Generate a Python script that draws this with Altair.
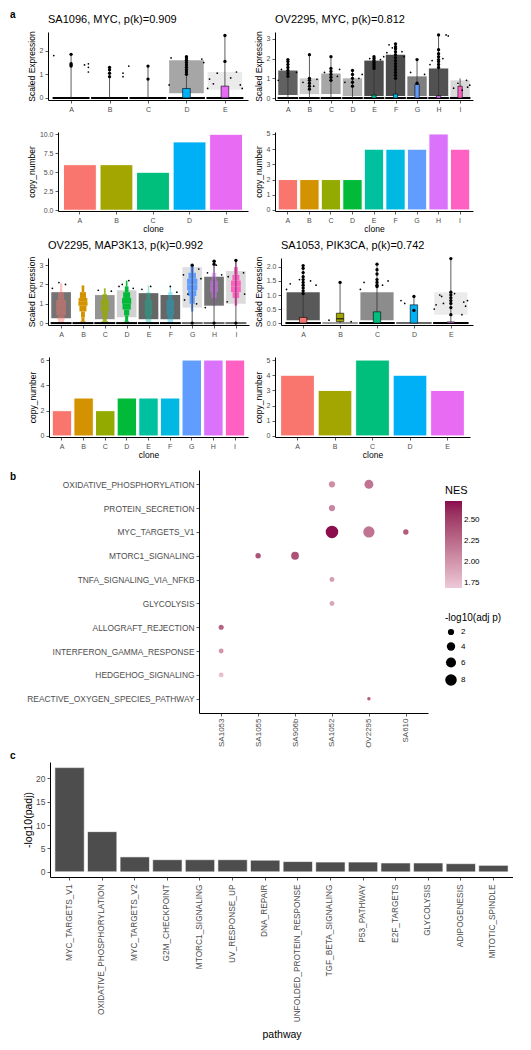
import altair as alt
import pandas as pd

FONT = "Liberation Sans"
GREY = "#4D4D4D"

clones5 = ["A", "B", "C", "D", "E"]
clones9 = ["A", "B", "C", "D", "E", "F", "G", "H", "I"]
hue5 = ["#F8766D", "#A3A500", "#00BF7D", "#00B0F6", "#E76BF3"]
hue9 = ["#F8766D", "#D39200", "#93AA00", "#00BA38", "#00C19F", "#00B9E3", "#619CFF", "#DB72FB", "#FF61C3"]

# ---------------- panel a : SA1096 MYC ----------------
p1_title = "SA1096, MYC, p(k)=0.909"
p1_cloud_lo = [0, 0, 0, 0.2, 0.35]
p1_cloud_hi = [0, 0, 0, 1.6, 1.1]
p1_cloud_density = [0, 0, 0, 0.35, 0.08]
p1_box_q1 = [0, 0, 0, 0, 0]
p1_box_q3 = [0, 0, 0, 0.4, 0.5]
p1_box_median = [0, 0, 0, 0, 0]
p1_whisker_hi = [1.85, 1.3, 1.35, 1.75, 2.65]
p1_zero_line = [1, 1, 1, 1, 1]
p1_outlier_clone = ["A"] * 4 + ["B"] * 4 + ["C"] * 2 + ["D"] * 9 + ["E"] * 2
p1_outlier_value = [1.85, 1.45, 1.4, 1.35, 1.3, 1.2, 1.05, 0.9, 1.35, 0.8,
                    1.75, 1.7, 1.6, 1.5, 1.4, 1.3, 1.2, 1.1, 1.0, 2.65, 1.55]
p1_jitter_clone = ["A"] * 5 + ["B"] * 3 + ["D"] * 4 + ["E"] * 8
p1_jitter_offset = [-0.45, 0.35, 0.45, 0.45, 0.45, 0.35, 0.35, 0.5, -0.45, 0.45, 0.4, -0.4,
                    -0.45, -0.4, -0.3, 0.3, 0.4, 0.45, -0.2, 0.15]
p1_jitter_value = [1.8, 1.4, 1.45, 1.3, 1.1, 1.05, 0.9, 1.35, 0.55, 1.5, 1.65, 1.7,
                   0.4, 0.8, 0.6, 1.1, 0.55, 0.4, 1.05, 0.85]

# ---------------- panel a : OV2295 MYC ----------------
p2_title = "OV2295, MYC, p(k)=0.812"
p2_cloud_lo = [0.15, 0.2, 0.2, 0.1, 0.1, 0.1, 0.1, 0.1, 0.05]
p2_cloud_hi = [1.4, 1.0, 1.25, 1.0, 1.9, 2.2, 1.1, 1.5, 0.9]
p2_cloud_density = [0.62, 0.2, 0.35, 0.3, 0.7, 0.7, 0.5, 0.68, 0.15]
p2_box_q1 = [0, 0, 0, 0, 0, 0, 0, 0, 0]
p2_box_q3 = [0, 0, 0, 0, 0.15, 0.2, 0.7, 0.12, 0.6]
p2_box_median = [0, 0, 0, 0, 0, 0, 0, 0, 0]
p2_whisker_hi = [1.95, 2.2, 2.1, 1.4, 2.1, 2.75, 1.95, 3.2, 1.0]
p2_zero_line = [1, 1, 1, 1, 1, 1, 1, 1, 1]
p2_outlier_clone = (["A"] * 7 + ["B"] * 6 + ["C"] * 6 + ["D"] * 5 + ["E"] * 7 +
                    ["F"] * 13 + ["G"] * 2 + ["H"] * 8)
p2_outlier_value = [1.95, 1.85, 1.7, 1.55, 1.4, 1.25, 1.1,
                    2.2, 1.0, 0.9, 0.75, 0.6, 0.45,
                    2.1, 1.5, 1.35, 1.2, 1.05, 0.9,
                    1.4, 1.2, 1.0, 0.8, 0.6,
                    2.1, 2.0, 1.9, 1.8, 1.7, 1.6, 1.5,
                    2.75, 2.6, 2.5, 2.35, 2.2, 2.05, 1.9, 1.75, 1.6, 1.45, 1.3, 1.15, 1.0,
                    1.95, 0.75,
                    3.2, 2.45, 2.25, 2.1, 1.95, 1.85, 1.7, 1.55]
p2_jitter_clone = (["A"] * 3 + ["B"] * 3 + ["C"] * 3 + ["D"] * 3 + ["E"] * 3 +
                   ["F"] * 5 + ["G"] * 2 + ["H"] * 5 + ["I"] * 6)
p2_jitter_offset = [-0.3, 0.4, -0.45, -0.3, 0.2, 0.35, -0.3, 0.3, 0.4, 0.3, -0.35, 0.45,
                    -0.2, 0.3, 0.45, -0.3, -0.15, 0.3, 0.4, -0.4, -0.3, 0.35,
                    0.35, 0.45, -0.3, 0.2, -0.4, 0.3, 0.35, -0.3, 0.45, -0.1, 0.1]
p2_jitter_value = [1.45, 1.3, 0.9, 0.8, 0.6, 0.95, 1.3, 1.1, 1.45, 1.0, 0.8, 1.2,
                   2.0, 1.95, 2.1, 2.7, 2.55, 2.35, 2.1, 2.3, 1.3, 1.2,
                   3.2, 3.15, 1.9, 2.0, 1.7, 0.9, 0.55, 0.5, 0.65, 0.75, 0.4]

# ---------------- panel a : OV2295 MAP3K13 (violins) ----------------
p3_title = "OV2295, MAP3K13, p(k)=0.992"
p3_violin_clone = (["A"] * 7 + ["B"] * 9 + ["C"] * 8 + ["D"] * 9 + ["E"] * 7 +
                   ["F"] * 7 + ["G"] * 8 + ["H"] * 7 + ["I"] * 8)
p3_violin_y = [0, 0.15, 0.4, 0.8, 1.2, 1.6, 2.05,
               0, 0.1, 0.3, 0.6, 0.9, 1.1, 1.3, 1.6, 1.95,
               0, 0.1, 0.3, 0.6, 0.9, 1.2, 1.5, 1.8,
               0, 0.1, 0.4, 0.7, 1.0, 1.3, 1.6, 1.9, 2.2,
               0, 0.1, 0.4, 0.8, 1.2, 1.6, 1.95,
               0, 0.1, 0.4, 0.8, 1.2, 1.6, 1.9,
               0.6, 1.0, 1.4, 1.7, 2.0, 2.3, 2.6, 3.0,
               0.9, 1.3, 1.6, 1.9, 2.2, 2.6, 3.2,
               0.9, 1.3, 1.6, 1.9, 2.2, 2.5, 2.9, 3.25]
p3_violin_halfwidth = [0.15, 0.12, 0.2, 0.25, 0.2, 0.08, 0.02,
                       0.14, 0.08, 0.06, 0.12, 0.2, 0.22, 0.18, 0.1, 0.02,
                       0.2, 0.1, 0.08, 0.16, 0.2, 0.15, 0.06, 0.02,
                       0.14, 0.06, 0.08, 0.16, 0.22, 0.2, 0.12, 0.05, 0.02,
                       0.16, 0.1, 0.15, 0.2, 0.14, 0.05, 0.02,
                       0.16, 0.1, 0.15, 0.2, 0.14, 0.05, 0.02,
                       0.02, 0.08, 0.16, 0.22, 0.25, 0.22, 0.12, 0.02,
                       0.02, 0.08, 0.16, 0.2, 0.15, 0.06, 0.01,
                       0.02, 0.1, 0.2, 0.25, 0.2, 0.12, 0.05, 0.01]
# how much of each violin shows through the dense jitter cloud
p3_violin_visibility = [0.45, 1, 0.85, 1, 0.4, 0.4, 1, 0.55, 1]
p3_cloud_lo = [0.25, 0, 0.2, 0.3, 0.2, 0.2, 0.8, 0.9, 1.0]
p3_cloud_hi = [1.6, 0, 1.45, 1.7, 1.55, 1.45, 2.9, 2.4, 2.7]
p3_cloud_density = [0.55, 0, 0.42, 0.18, 0.6, 0.6, 0.12, 0.55, 0.14]
p3_box_q1 = [0, 0, 0, 0, 0, 0, 0, 0, 0]
p3_box_q3 = [0, 0, 0, 0, 0, 0, 0, 0, 0]
p3_box_median = [0, 0, 0, 0, 0, 0, 0, 0, 0]
p3_whisker_hi = [0, 0, 0, 0, 0, 0, 3.0, 3.2, 3.25]
p3_zero_line = [1, 1, 1, 1, 1, 1, 0.6, 0.6, 0.6]
p3_outlier_clone = ["G", "G", "H", "H", "H", "I", "I"]
p3_outlier_value = [0, 3.0, 0, 3.2, 3.05, 0, 3.25]
p3_jitter_clone = (["A"] * 3 + ["C"] * 2 + ["D"] * 4 + ["E"] * 2 + ["F"] * 2 +
                   ["G"] * 6 + ["H"] * 5 + ["I"] * 5)
p3_jitter_offset = [-0.1, 0.2, -0.4, 0.3, -0.3, -0.2, 0.1, 0.3, -0.35, 0.1, -0.3, 0, 0.3,
                    -0.4, 0.4, -0.35, 0.3, -0.2, 0.2, 0.05, 0.1, -0.3, 0.35, -0.4,
                    0, 0.35, -0.35, 0.4, -0.4]
p3_jitter_value = [2.1, 2.0, 1.8, 1.65, 1.7, 2.0, 2.2, 1.8, 1.9, 1.9, 1.75, 1.9, 1.6,
                   2.5, 2.3, 1.2, 2.8, 1.5, 1.0, 3.2, 3.0, 2.6, 2.5, 0.8,
                   3.2, 2.6, 2.4, 1.5, 1.1]

# ---------------- panel a : SA1053 PIK3CA ----------------
p4_title = "SA1053, PIK3CA, p(k)=0.742"
p4_cloud_lo = [0.1, 0, 0.1, 0, 0.3]
p4_cloud_hi = [1.1, 0, 1.1, 0, 1.1]
p4_cloud_density = [0.65, 0, 0.45, 0, 0.08]
p4_box_q1 = [0, 0.05, 0, 0, 0]
p4_box_q3 = [0.2, 0.35, 0.4, 0.65, 0.04]
p4_box_median = [0, 0.15, 0, 0, 0]
p4_whisker_hi = [2.05, 1.45, 2.1, 0.95, 2.3]
p4_zero_line = [1, 0.4, 1, 0.6, 1]
p4_outlier_clone = ["A"] * 10 + ["B"] + ["C"] * 7 + ["D"] * 2 + ["E"] * 8
p4_outlier_value = [2.05, 1.95, 1.8, 1.65, 1.55, 1.45, 1.35, 1.25, 1.15, 1.05,
                    1.45,
                    2.1, 1.9, 1.75, 1.55, 1.45, 1.35, 1.3,
                    0.95, 0.45,
                    2.3, 1.1, 1.0, 0.9, 0.8, 0.7, 0.55, 0.3]
p4_jitter_clone = ["A"] * 5 + ["B"] * 2 + ["C"] * 4 + ["D"] * 2 + ["E"] * 10
p4_jitter_offset = [-0.35, 0.35, 0.2, -0.1, -0.45, 0.3, -0.3, -0.35, 0.3, 0.15, -0.45,
                    -0.35, -0.25, -0.4, -0.3, -0.2, 0.35, 0.4, 0.3, -0.25, 0.1, -0.45, 0.45]
p4_jitter_value = [1.4, 1.35, 1.5, 1.55, 1.2, 0.05, 0.1, 1.45, 1.5, 1.35, 1.2,
                   0.8, 0.7, 0.65, 1.0, 0.7, 0.75, 0.6, 0.3, 0.95, 1.05, 0.5, 0.8]

# ---------------- panel a : copy numbers ----------------
cn_sa1096_myc = [6, 6, 5, 9, 10]
cn_ov2295_myc = [2, 2, 2, 2, 4, 4, 4, 5, 4]
cn_ov2295_map3k13 = [2, 3, 2, 3, 3, 3, 6, 6, 6]
cn_sa1053_pik3ca = [4, 3, 5, 4, 3]

# ---------------- panel b ----------------
b_pathways = ["OXIDATIVE_PHOSPHORYLATION", "PROTEIN_SECRETION", "MYC_TARGETS_V1",
              "MTORC1_SIGNALING", "TNFA_SIGNALING_VIA_NFKB", "GLYCOLYSIS",
              "ALLOGRAFT_REJECTION", "INTERFERON_GAMMA_RESPONSE", "HEDGEHOG_SIGNALING",
              "REACTIVE_OXYGEN_SPECIES_PATHWAY"]
b_samples = ["SA1053", "SA1055", "SA906b", "SA1052", "OV2295", "SA610"]
b_pathway = ["OXIDATIVE_PHOSPHORYLATION", "OXIDATIVE_PHOSPHORYLATION", "PROTEIN_SECRETION",
             "MYC_TARGETS_V1", "MYC_TARGETS_V1", "MYC_TARGETS_V1",
             "MTORC1_SIGNALING", "MTORC1_SIGNALING", "TNFA_SIGNALING_VIA_NFKB", "GLYCOLYSIS",
             "ALLOGRAFT_REJECTION", "INTERFERON_GAMMA_RESPONSE", "HEDGEHOG_SIGNALING",
             "REACTIVE_OXYGEN_SPECIES_PATHWAY"]
b_sample = ["SA1052", "OV2295", "SA1052", "SA1052", "OV2295", "SA610",
            "SA1055", "SA906b", "SA1052", "SA1052", "SA1053", "SA1053", "SA1053", "OV2295"]
b_nes = [2.05, 2.2, 2.1, 2.72, 2.2, 2.35, 2.4, 2.4, 1.95, 1.9, 2.3, 2.0, 1.75, 2.35]
b_log10_adjp = [2.0, 4.6, 2.0, 9.5, 7.6, 1.4, 1.4, 3.4, 1.1, 1.1, 1.2, 1.1, 1.1, 0.3]

# ---------------- panel c ----------------
c_pathway = ["MYC_TARGETS_V1", "OXIDATIVE_PHOSPHORYLATION", "MYC_TARGETS_V2", "G2M_CHECKPOINT",
             "MTORC1_SIGNALING", "UV_RESPONSE_UP", "DNA_REPAIR", "UNFOLDED_PROTEIN_RESPONSE",
             "TGF_BETA_SIGNALING", "P53_PATHWAY", "E2F_TARGETS", "GLYCOLYSIS",
             "ADIPOGENESIS", "MITOTIC_SPINDLE"]
c_log10_padj = [22.3, 8.6, 3.2, 2.6, 2.6, 2.6, 2.5, 2.2, 2.1, 2.1, 1.9, 1.9, 1.75, 1.4]

INDEP = dict(color="independent", opacity="independent", size="independent")


# ================= helpers =================
def frame(w, h, L, T, R, B):
    return alt.Chart(pd.DataFrame({"f": [0]})).mark_rect(opacity=0).encode(
        x=alt.value(-L), x2=alt.value(w + R), y=alt.value(-T), y2=alt.value(h + B))


def label(text, x, y, size=10, bold=True):
    return alt.Chart(pd.DataFrame({"t": [text]})).mark_text(
        align="left", baseline="middle", fontSize=size, font=FONT, color="black",
        fontWeight="bold" if bold else "normal").encode(
        x=alt.value(x), y=alt.value(y), text="t:N")


def spacer(h, T, B, tag=None, tag_y=0):
    layers = [frame(10, h, 0, T, 0, B)]
    if tag:
        layers.append(label(tag, 2, tag_y))
    return alt.layer(*layers).properties(width=10, height=h)


def expr_panel(title, clones, colors, ydom, yvals, yfmt, w, h, L, T, R, B,
               cloud_lo, cloud_hi, cloud_den, q1, q3, med, whi, zero,
               out_clone, out_value, jit_clone, jit_off, jit_value,
               vio_clone=None, vio_y=None, vio_hw=None, vio_vis=None):
    n = len(clones)
    pos = {c: i + 1 for i, c in enumerate(clones)}
    xscale = alt.Scale(domain=[0.4, n + 0.6], nice=False, zero=False)
    yscale = alt.Scale(domain=ydom, nice=False, zero=False)
    lbl = "[" + ",".join("'%s'" % c for c in clones) + "][datum.value - 1]"
    xaxis = alt.Axis(values=list(range(1, n + 1)), labelExpr=lbl, title=None,
                     labelFontSize=7, labelPadding=2, labelFlush=False)
    yaxis = alt.Axis(values=yvals, format=yfmt, title="Scaled Expression",
                     titleFontSize=8.5, titlePadding=3, labelFontSize=7, labelPadding=2)

    def X(f):
        return alt.X(f, type="quantitative", scale=xscale, axis=xaxis)

    def Y(f):
        return alt.Y(f, type="quantitative", scale=yscale, axis=yaxis)

    cscale = alt.Scale(domain=clones, range=colors)
    layers = [frame(w, h, L, T, R, B)]

    cdf = pd.DataFrame({"clone": clones, "lo": cloud_lo, "hi": cloud_hi, "den": cloud_den})
    cdf = cdf[cdf["den"] > 0].copy()
    cdf["x1"] = cdf["clone"].map(pos) - 0.45
    cdf["x2"] = cdf["clone"].map(pos) + 0.45
    layers.append(alt.Chart(cdf).mark_rect(color="black").encode(
        x=X("x1"), x2="x2", y=Y("lo"), y2="hi",
        opacity=alt.Opacity("den:Q", scale=None)))

    if vio_clone is not None:
        # violin drawn as stacked slices between the read-off profile levels
        vis = dict(zip(clones, vio_vis))
        rows = []
        for k in range(len(vio_clone) - 1):
            if vio_clone[k] != vio_clone[k + 1]:
                continue
            c = vio_clone[k]
            hw = (vio_hw[k] + vio_hw[k + 1]) / 2.0
            rows.append({"clone": c, "lo": vio_y[k], "hi": vio_y[k + 1],
                         "x1": pos[c] - hw, "x2": pos[c] + hw, "vis": vis[c]})
        vdf = pd.DataFrame(rows)
        layers.append(alt.Chart(vdf).mark_rect(strokeWidth=0).encode(
            x=X("x1"), x2="x2", y=Y("lo"), y2="hi",
            color=alt.Color("clone:N", scale=cscale, legend=None),
            opacity=alt.Opacity("vis:Q", scale=None)))

    zdf = pd.DataFrame({"clone": clones, "op": zero})
    zdf["x1"] = zdf["clone"].map(pos) - 0.48
    zdf["x2"] = zdf["clone"].map(pos) + 0.48
    zdf["y0"] = 0
    layers.append(alt.Chart(zdf).mark_rule(color="black", strokeWidth=2).encode(
        x=X("x1"), x2="x2", y=Y("y0"), opacity=alt.Opacity("op:Q", scale=None)))

    wdf = pd.DataFrame({"clone": clones, "hi": whi})
    wdf = wdf[wdf["hi"] > 0].copy()
    wdf["x"] = wdf["clone"].map(pos)
    wdf["lo"] = 0
    layers.append(alt.Chart(wdf).mark_rule(color="#333333", strokeWidth=0.8).encode(
        x=X("x"), y=Y("lo"), y2="hi"))

    bdf = pd.DataFrame({"clone": clones, "q1": q1, "q3": q3, "med": med})
    bdf = bdf[bdf["q3"] > bdf["q1"]].copy()
    bdf["x1"] = bdf["clone"].map(pos) - 0.1
    bdf["x2"] = bdf["clone"].map(pos) + 0.1
    layers.append(alt.Chart(bdf).mark_rect(stroke="black", strokeWidth=0.6).encode(
        x=X("x1"), x2="x2", y=Y("q1"), y2="q3",
        color=alt.Color("clone:N", scale=cscale, legend=None)))
    mdf = bdf[bdf["med"] > bdf["q1"]]
    layers.append(alt.Chart(mdf).mark_rule(color="black", strokeWidth=1).encode(
        x=X("x1"), x2="x2", y=Y("med")))

    odf = pd.DataFrame({"clone": out_clone, "value": out_value})
    odf["x"] = odf["clone"].map(pos)
    layers.append(alt.Chart(odf).mark_circle(size=11, color="black", opacity=1).encode(
        x=X("x"), y=Y("value")))

    jdf = pd.DataFrame({"clone": jit_clone, "off": jit_off, "value": jit_value})
    jdf["x"] = jdf["clone"].map(pos) + jdf["off"]
    layers.append(alt.Chart(jdf).mark_circle(size=3, color="black", opacity=1).encode(
        x=X("x"), y=Y("value")))

    layers.append(label(title, 0, -12, size=11, bold=False))
    return alt.layer(*layers).properties(width=w, height=h)


def cn_panel(clones, colors, values, ydom, yvals, yfmt, w, h, L, T, R, B):
    df = pd.DataFrame({"clone": clones, "copy_number": values})
    bars = alt.Chart(df).mark_bar(stroke="white", strokeWidth=1, opacity=1).encode(
        x=alt.X("clone:N", scale=alt.Scale(domain=clones, paddingInner=0.1, paddingOuter=0.15),
                axis=alt.Axis(title="clone", labelAngle=0, labelFontSize=7, labelPadding=2,
                              titleFontSize=8.5, titlePadding=1)),
        y=alt.Y("copy_number:Q", scale=alt.Scale(domain=ydom, nice=False, zero=False),
                axis=alt.Axis(values=yvals, format=yfmt, title="copy_number", labelFontSize=7,
                              labelPadding=2, titleFontSize=8.5, titlePadding=3)),
        y2=alt.datum(0),
        color=alt.Color("clone:N", scale=alt.Scale(domain=clones, range=colors), legend=None))
    return alt.layer(frame(w, h, L, T, R, B), bars).properties(width=w, height=h)


# ================= panel a =================
p1 = expr_panel(p1_title, clones5, hue5, [-0.09, 2.8], [0, 1, 2], "d", 200, 68, 28, 24, 0, 14,
                p1_cloud_lo, p1_cloud_hi, p1_cloud_density, p1_box_q1, p1_box_q3, p1_box_median,
                p1_whisker_hi, p1_zero_line, p1_outlier_clone, p1_outlier_value,
                p1_jitter_clone, p1_jitter_offset, p1_jitter_value)
p2 = expr_panel(p2_title, clones9, hue9, [-0.1, 3.35], [0, 1, 2, 3], "d", 198, 68, 25, 24, 10, 14,
                p2_cloud_lo, p2_cloud_hi, p2_cloud_density, p2_box_q1, p2_box_q3, p2_box_median,
                p2_whisker_hi, p2_zero_line, p2_outlier_clone, p2_outlier_value,
                p2_jitter_clone, p2_jitter_offset, p2_jitter_value)
p3 = expr_panel(p3_title, clones9, hue9, [-0.1, 3.37], [0, 1, 2, 3], "d", 201, 67, 28, 23, 0, 14,
                p3_cloud_lo, p3_cloud_hi, p3_cloud_density, p3_box_q1, p3_box_q3, p3_box_median,
                p3_whisker_hi, p3_zero_line, p3_outlier_clone, p3_outlier_value,
                p3_jitter_clone, p3_jitter_offset, p3_jitter_value,
                vio_clone=p3_violin_clone, vio_y=p3_violin_y, vio_hw=p3_violin_halfwidth,
                vio_vis=p3_violin_visibility)
p4 = expr_panel(p4_title, clones5, hue5, [-0.07, 2.32], [0, 0.5, 1, 1.5, 2], ".1f", 192, 67, 30, 23, 10, 14,
                p4_cloud_lo, p4_cloud_hi, p4_cloud_density, p4_box_q1, p4_box_q3, p4_box_median,
                p4_whisker_hi, p4_zero_line, p4_outlier_clone, p4_outlier_value,
                p4_jitter_clone, p4_jitter_offset, p4_jitter_value)

cn1 = cn_panel(clones5, hue5, cn_sa1096_myc, [-0.1, 10.3], [0, 2.5, 5, 7.5, 10], ".1f", 190, 79, 38, 18, 0, 24)
cn2 = cn_panel(clones9, hue9, cn_ov2295_myc, [-0.07, 5.13], [0, 1, 2, 3, 4, 5], "d", 198, 79, 25, 18, 10, 24)
cn3 = cn_panel(clones9, hue9, cn_ov2295_map3k13, [-0.08, 6.24], [0, 2, 4, 6], "d", 199, 80, 29, 18, 0, 24)
cn4 = cn_panel(clones5, hue5, cn_sa1053_pik3ca, [-0.07, 5.2], [0, 1, 2, 3, 4, 5], "d", 195, 80, 25, 18, 10, 24)

row1 = alt.hconcat(spacer(68, 24, 14, "a", -17), p1, p2, spacing=2).resolve_scale(**INDEP)
row2 = alt.hconcat(spacer(79, 18, 24), cn1, cn2, spacing=2).resolve_scale(**INDEP)
row3 = alt.hconcat(spacer(67, 23, 14), p3, p4, spacing=2).resolve_scale(**INDEP)
row4 = alt.hconcat(spacer(80, 18, 24), cn3, cn4, spacing=2).resolve_scale(**INDEP)

# ================= panel b =================
bdf = pd.DataFrame({"pathway": b_pathway, "sample": b_sample, "NES": b_nes, "logp": b_log10_adjp})
dots = alt.Chart(bdf).mark_circle(opacity=1, color="black").encode(
    x=alt.X("sample:N", scale=alt.Scale(type="point", domain=b_samples, padding=0.6),
            axis=alt.Axis(title=None, labelAngle=270, labelFontSize=8, labelPadding=2,
                          labelColor=GREY)),
    y=alt.Y("pathway:N", scale=alt.Scale(type="point", domain=b_pathways, padding=0.6),
            axis=alt.Axis(title=None, labelFontSize=8.4, labelPadding=2, labelColor=GREY)),
    color=alt.Color("NES:Q", scale=alt.Scale(domain=[1.69, 2.73], range=["#EDC9D8", "#8B0A4E"],
                                             interpolate="lab"),
                    legend=alt.Legend(title="NES", orient="none", legendX=246, legendY=15,
                                      direction="vertical", gradientLength=87, gradientThickness=17,
                                      values=[1.75, 2.0, 2.25, 2.5], format=".2f",
                                      labelFontSize=8, titleFontSize=11, titlePadding=5)),
    size=alt.Size("logp:Q", scale=alt.Scale(domain=[0, 10], range=[7, 165]),
                  legend=alt.Legend(title="-log10(adj p)", orient="none", legendX=246, legendY=143,
                                    direction="vertical", values=[2, 4, 6, 8],
                                    symbolFillColor="black", symbolStrokeWidth=0, symbolOpacity=1,
                                    rowPadding=6, labelFontSize=8, titleFontSize=10, titlePadding=5)),
)
panel_b = alt.layer(frame(229, 243, 179, 9, 0, 37), dots).properties(width=229, height=243)
row_b = alt.hconcat(spacer(243, 9, 37, "b", 7), panel_b, spacing=2).resolve_scale(**INDEP)

# ================= panel c =================
cdf = pd.DataFrame({"pathway": c_pathway, "value": c_log10_padj})
cbars = alt.Chart(cdf).mark_bar(color="#4D4D4D", stroke="white", strokeWidth=0.6, opacity=1).encode(
    x=alt.X("pathway:N", sort=c_pathway,
            scale=alt.Scale(paddingInner=0.1, paddingOuter=0.15),
            axis=alt.Axis(title="pathway", labelAngle=270, labelFontSize=8.3, labelPadding=4,
                          titleFontSize=10.5, titlePadding=8, labelColor=GREY)),
    y=alt.Y("value:Q", scale=alt.Scale(domain=[-1.1, 23.5], nice=False, zero=False),
            axis=alt.Axis(values=[0, 5, 10, 15, 20], title="-log10(padj)", labelFontSize=8.5,
                          labelPadding=2, titleFontSize=10.5, titlePadding=2, labelColor=GREY)),
    y2=alt.datum(0),
)
panel_c = alt.layer(frame(463, 115, 30, 12, 0, 10), cbars).properties(width=463, height=115)
row_c = alt.hconcat(spacer(115, 12, 10, "c", -6), panel_c, spacing=2).resolve_scale(**INDEP)

chart = alt.vconcat(row1, row2, row3, row4, row_b, row_c, spacing=0, padding=0).resolve_scale(
    **INDEP
).configure(font=FONT).configure_view(stroke=None).configure_axis(
    grid=False, domainColor="black", domainWidth=1, tickColor="#333333", tickWidth=0.8,
    tickSize=3, labelColor=GREY, titleColor="black", labelFont=FONT, titleFont=FONT,
    titleFontWeight="normal"
).configure_legend(labelFont=FONT, titleFont=FONT, titleFontWeight="normal",
                   labelColor="black", titleColor="black")

chart.save("out.html", embed_options={"renderer": "svg", "actions": False})
